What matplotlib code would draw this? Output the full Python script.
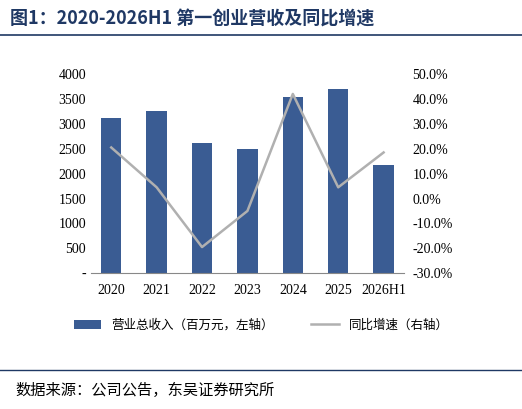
import matplotlib
matplotlib.use("Agg")
import matplotlib.pyplot as plt
from matplotlib.ticker import FuncFormatter

plt.rcParams['font.family'] = ['Liberation Serif', 'Noto Sans CJK SC']

years = ["2020", "2021", "2022", "2023", "2024", "2025", "2026H1"]
revenue = [3120, 3260, 2620, 2490, 3540, 3690, 2180]
growth = [20.5, 4.5, -19.5, -5.0, 42.0, 4.5, 18.5]

fig = plt.figure(figsize=(5.22, 4.09), dpi=100)
ax = fig.add_axes([0.174, 0.332, 0.6, 0.487])
ax.bar(range(len(years)), revenue, width=0.45, color='#3A5C93', label='营业总收入（百万元，左轴）')
ax.set_ylim(0, 4000)
ax.set_yticks(range(0, 4001, 500))
ax.yaxis.set_major_formatter(FuncFormatter(lambda v, p: '-' if v == 0 else f'{int(v)}'))
ax.set_xticks(range(len(years)))
ax.set_xticklabels(years)
ax.set_xlim(-0.45, len(years) - 0.55)
for s in ['top', 'right', 'left']:
    ax.spines[s].set_visible(False)
ax.tick_params(axis='both', length=0, labelsize=10)
ax.tick_params(axis='x', pad=8)
ax.spines['bottom'].set_color('#888888')

ax2 = ax.twinx()
ax2.plot(range(len(years)), growth, color='#B0B0B0', lw=1.8, label='同比增速（右轴）')
ax2.set_ylim(-30, 50)
ax2.set_yticks(range(-30, 51, 10))
ax2.yaxis.set_major_formatter(FuncFormatter(lambda v, p: f'{v:.1f}%'))
for s in ['top', 'right', 'left', 'bottom']:
    ax2.spines[s].set_visible(False)
ax2.tick_params(axis='y', length=0, labelsize=10, pad=6)

h1, l1 = ax.get_legend_handles_labels()
h2, l2 = ax2.get_legend_handles_labels()
fig.legend(h1 + h2, l1 + l2, loc='center', bbox_to_anchor=(0.5, 0.205), ncol=2,
           frameon=False, handlelength=2.2, columnspacing=3,
           prop={'family': ['Noto Sans CJK SC'], 'size': 9})

fig.text(0.02, 0.955, '图1：2020-2026H1 第一创业营收及同比增速', fontsize=13, fontweight='bold',
         color='#1F3864', va='center', family=['Noto Sans CJK SC'])
fig.add_artist(plt.Line2D([0.0, 1.0], [0.915, 0.915], color='#1F3864', lw=1.2))
fig.add_artist(plt.Line2D([0.0, 1.0], [0.095, 0.095], color='#1F3864', lw=1.0))
fig.text(0.03, 0.045, '数据来源：公司公告，东吴证券研究所', fontsize=11, va='center',
         family=['Noto Sans CJK SC'])

fig.savefig('out.png', dpi=100)
